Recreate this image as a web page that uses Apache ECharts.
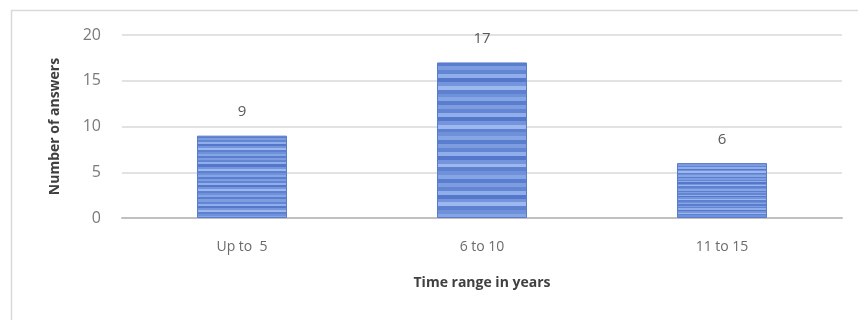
<!DOCTYPE html>
<html>
<head>
<meta charset="utf-8">
<script src="https://cdn.jsdelivr.net/npm/echarts@6/dist/echarts.min.js"></script>
<style>html,body{margin:0;padding:0;background:#fff}#c{width:858px;height:320px}</style>
</head>
<body>
<div id="c"></div>
<script>
const categories = ['Up to  5', '6 to 10', '11 to 15'];
const answers = [9, 17, 6];
const yTicks = [0, 5, 10, 15, 20];
const xTitle = 'Time range in years';
const yTitle = 'Number of answers';

const stripeStops = [];
const stripeColors = ['#5a7ecf','#7d9de0','#6386d4','#90aee9','#5477cb','#7495dc','#9db8ee','#5d81d0','#6f91da','#86a5e4'];
const nStripes = 40;
for (let i = 0; i < nStripes; i++) {
  const c = stripeColors[i % stripeColors.length];
  stripeStops.push({offset: i / nStripes, color: c});
  stripeStops.push({offset: (i + 1) / nStripes, color: c});
}

const chart = echarts.init(document.getElementById('c'), null, {renderer: 'canvas'});
const font = '"Open Sans", Lato, sans-serif';
chart.setOption({
  animation: false,
  textStyle: {fontFamily: font},
  graphic: [{
    type: 'rect', left: 9, top: 8, shape: {width: 880, height: 340},
    style: {fill: 'none', stroke: '#d9d9d9', lineWidth: 1.5}, silent: true
  }],
  grid: {left: 122, right: 16, top: 35, bottom: 102, containLabel: false},
  xAxis: {
    type: 'category', data: categories,
    axisTick: {show: false},
    axisLine: {lineStyle: {color: '#c0c0c0', width: 2}},
    axisLabel: {color: '#6b6b6b', fontSize: 14, margin: 22, fontFamily: font},
    name: xTitle, nameLocation: 'middle', nameGap: 58,
    nameTextStyle: {color: '#404040', fontSize: 14, fontWeight: 'bold', fontFamily: font}
  },
  yAxis: {
    type: 'value', min: yTicks[0], max: yTicks[yTicks.length - 1], interval: 5,
    axisLine: {show: false}, axisTick: {show: false},
    splitLine: {lineStyle: {color: '#d9d9d9', width: 1.5}},
    axisLabel: {color: '#7a7a7a', fontSize: 16, margin: 21, fontFamily: font},
    name: yTitle, nameLocation: 'middle', nameGap: 60, nameRotate: 90,
    nameTextStyle: {color: '#404040', fontSize: 14, fontWeight: 'bold', fontFamily: font}
  },
  series: [{
    type: 'bar', data: answers, barWidth: '37.5%',
    itemStyle: {
      color: {type: 'linear', x: 0, y: 0, x2: 0, y2: 1, colorStops: stripeStops},
      borderColor: '#5a7bcb', borderWidth: 1
    },
    label: {show: true, position: 'top', distance: 16, color: '#595959', fontSize: 15, fontFamily: font}
  }]
});
</script>
</body>
</html>
